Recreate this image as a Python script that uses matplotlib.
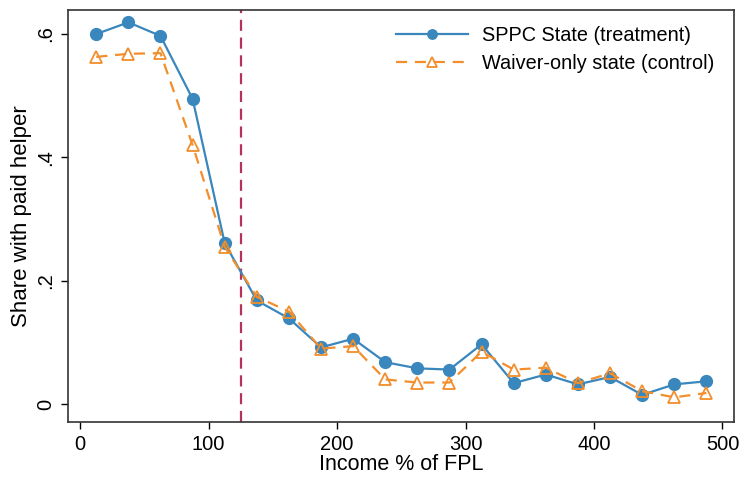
import matplotlib
matplotlib.use("Agg")
import matplotlib.pyplot as plt

plt.rcParams['font.family'] = ['Liberation Sans', 'DejaVu Sans']

income_fpl = [12.5, 37.5, 62.5, 87.5, 112.5, 137.5, 162.5, 187.5, 212.5, 237.5,
              262.5, 287.5, 312.5, 337.5, 362.5, 387.5, 412.5, 437.5, 462.5, 487.5]
sppc_share = [0.600, 0.619, 0.597, 0.495, 0.261, 0.168, 0.139, 0.092, 0.106, 0.068,
              0.058, 0.056, 0.097, 0.034, 0.048, 0.032, 0.044, 0.015, 0.032, 0.037]
waiver_share = [0.563, 0.568, 0.569, 0.420, 0.255, 0.174, 0.150, 0.090, 0.094, 0.040,
                0.035, 0.035, 0.085, 0.056, 0.059, 0.034, 0.050, 0.021, 0.011, 0.018]
cutoff = 125
x_ticks = [0, 100, 200, 300, 400, 500]
y_ticks = [0, 0.2, 0.4, 0.6]
y_tick_labels = ['0', '.2', '.4', '.6']

blue = '#3a87bd'
orange = '#f28e2b'

fig = plt.figure(figsize=(7.42, 4.78), dpi=100)
ax = fig.add_axes([68/742, 1-422/478, (734-68)/742, (422-10)/478])

ax.plot(income_fpl, sppc_share, color=blue, lw=1.6, marker='o', ms=8.5,
        label='SPPC State (treatment)', zorder=3)
ax.plot(income_fpl, waiver_share, color=orange, lw=1.6, ls=(0, (5, 3.5)), marker='^',
        ms=8.5, mfc='none', mec=orange, mew=1.3,
        label='Waiver-only state (control)', zorder=3)
ax.axvline(cutoff, color='#b5325a', lw=1.6, ls=(0, (5, 3)), zorder=2)

ax.set_xlim(-9.5, 509)
ax.set_ylim(-0.029, 0.639)
ax.set_xticks(x_ticks)
ax.set_yticks(y_ticks)
ax.set_yticklabels(y_tick_labels, rotation=90, va='center')
ax.tick_params(axis='both', direction='out', length=5, width=1, labelsize=14.5, pad=4)
for s in ax.spines.values():
    s.set_linewidth(1.2)
    s.set_color('#333333')

ax.set_xlabel('Income % of FPL', fontsize=15.5, labelpad=0)
ax.set_ylabel('Share with paid helper', fontsize=16, labelpad=3)

leg = ax.legend(loc='upper right', frameon=False, fontsize=14.3, handlelength=3.6,
                bbox_to_anchor=(0.985, 0.985), labelspacing=0.45, borderaxespad=0.1,
                markerscale=0.8, handletextpad=0.7)

fig.savefig('out.png', dpi=100)
